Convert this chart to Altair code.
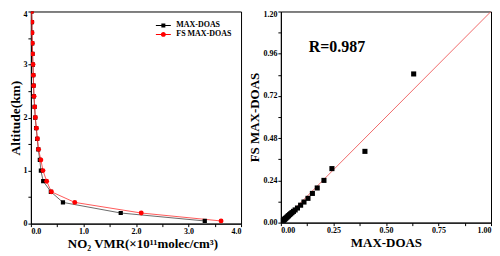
import altair as alt
import pandas as pd

# ---------------- data ----------------
altitude_km = [0.05, 0.2, 0.4, 0.6, 0.8, 1.0, 1.2, 1.4, 1.6, 1.8, 2.0,
               2.2, 2.4, 2.6, 2.8, 3.0, 3.2, 3.4, 3.6, 3.8, 4.0]
maxdoas_vmr = [3.31, 1.71, 0.61, 0.38, 0.234, 0.19, 0.17, 0.14, 0.12, 0.10, 0.082,
               0.07, 0.057, 0.05, 0.044, 0.038, 0.03, 0.025, 0.02, 0.02, 0.015]
fs_maxdoas_vmr = [3.62, 2.10, 0.835, 0.39, 0.30, 0.23, 0.19, 0.145, 0.125, 0.105, 0.085,
                  0.072, 0.06, 0.052, 0.046, 0.04, 0.032, 0.027, 0.022, 0.02, 0.015]
series_names = ["MAX-DOAS", "FS MAX-DOAS"]

scatter_maxdoas = [0.632, 0.400, 0.243, 0.205, 0.173, 0.150, 0.129, 0.110, 0.094, 0.079,
                   0.068, 0.060, 0.053, 0.047, 0.042, 0.037, 0.033, 0.029, 0.025, 0.021,
                   0.018, 0.015, 0.012]
scatter_fs = [0.845, 0.405, 0.307, 0.240, 0.197, 0.166, 0.138, 0.117, 0.099, 0.083,
              0.072, 0.064, 0.057, 0.051, 0.046, 0.040, 0.036, 0.031, 0.027, 0.023,
              0.019, 0.016, 0.013]
fit_x = [0.0, 1.0]
fit_y = [0.0, 1.2]
r_label = ["R=0.987"]

FONT = "Liberation Serif"

prof = pd.DataFrame({
    "alt": altitude_km * 2,
    "vmr": maxdoas_vmr + fs_maxdoas_vmr,
    "series": [series_names[0]] * len(altitude_km) + [series_names[1]] * len(altitude_km),
})
scat = pd.DataFrame({"x": scatter_maxdoas, "y": scatter_fs})
fit = pd.DataFrame({"x": fit_x, "y": fit_y})
rdf = pd.DataFrame({"t": r_label})

# ---------------- left panel ----------------
W, H = 211, 213
lx = alt.X("vmr:Q", scale=alt.Scale(domain=[0, 4], nice=False),
           axis=alt.Axis(values=[i * 0.5 for i in range(9)],
                         labelExpr="datum.value % 1 == 0 ? format(datum.value, '.1f') : ''",
                         title="NO₂ VMR(×10¹¹molec/cm³)", titleX=112))
ly = alt.Y("alt:Q", scale=alt.Scale(domain=[0, 4], nice=False),
           axis=alt.Axis(values=[i * 0.5 for i in range(9)],
                         labelExpr="datum.value % 1 == 0 ? format(datum.value, 'd') : ''",
                         labelOffset={"condition": {"test": "datum.value >= 3.99", "value": 3}, "value": 0},
                         title="Altitude(km)", titleFontSize=13.5, titlePadding=0))
order = alt.Order("alt:Q")

base = alt.Chart(prof)
blk = base.transform_filter(alt.datum.series == series_names[0])
red = base.transform_filter(alt.datum.series == series_names[1])

black_line = blk.mark_line(color="#444444", strokeWidth=0.8, clip=True).encode(x=lx, y=ly, order=order)
black_pts = blk.mark_point(shape="square", filled=True, color="black", size=18, opacity=1, clip=True).encode(x=lx, y=ly)
red_line = red.mark_line(color="#ff3030", strokeWidth=0.8, clip=True).encode(x=lx, y=ly, order=order)
red_pts = red.mark_point(shape="circle", filled=True, color="#ff0000", size=24, opacity=1, clip=True).encode(x=lx, y=ly)

sq_path = "M-1.875,-0.125H1.875V0.125H-1.875Z M-0.5,-0.5H0.5V0.5H-0.5Z"
ci_path = "M-1.875,-0.125H1.875V0.125H-1.875Z M0.62,0A0.62,0.62 0 1,1 -0.62,0A0.62,0.62 0 1,1 0.62,0Z"
leg = alt.Legend(title=None, orient="none", legendX=129, legendY=10, labelFont=FONT, labelFontSize=8,
                 labelFontWeight="bold", labelColor="black", symbolOpacity=1,
                 symbolSize=64, labelOffset=9, rowPadding=1, symbolStrokeWidth=0, padding=0)
legend_layer = base.mark_point(filled=True, opacity=0, size=64).encode(
    x=lx, y=ly,
    color=alt.Color("series:N", scale=alt.Scale(domain=series_names, range=["black", "#ff0000"]), legend=leg),
    shape=alt.Shape("series:N", scale=alt.Scale(domain=series_names, range=[sq_path, ci_path]), legend=leg),
)

left = alt.layer(black_line, red_line, black_pts, red_pts, legend_layer).properties(width=W, height=H)

# ---------------- right panel ----------------
rx = alt.X("x:Q", scale=alt.Scale(domain=[0, 1], nice=False),
           axis=alt.Axis(values=[i * 0.125 for i in range(9)],
                         labelExpr="(datum.value * 4) % 1 == 0 ? format(datum.value, '.2f') : ''",
                         title="MAX-DOAS"))
ry = alt.Y("y:Q", scale=alt.Scale(domain=[0, 1.2], nice=False),
           axis=alt.Axis(values=[round(i * 0.12, 2) for i in range(11)],
                         labelExpr="abs(datum.value / 0.24 - round(datum.value / 0.24)) < 0.001 ? format(datum.value, '.2f') : ''",
                         labelOffset={"condition": {"test": "datum.value >= 1.19", "value": 3}, "value": 0},
                         title="FS MAX-DOAS", titlePadding=1))

fit_line = alt.Chart(fit).mark_line(color="#f06a6a", strokeWidth=1, clip=True).encode(x=rx, y=ry)
sc_pts = alt.Chart(scat).mark_point(shape="square", filled=True, color="black", size=26, opacity=1).encode(x=rx, y=ry)
r_text = alt.Chart(rdf).mark_text(align="left", baseline="middle", font=FONT, fontSize=16,
                                   fontWeight="bold", color="black").encode(
    x=alt.value(28), y=alt.value(36), text="t:N")

right = alt.layer(fit_line, sc_pts, r_text).properties(width=W, height=H - 1)

chart = alt.hconcat(left, right, spacing=6).resolve_scale(
    color="independent", shape="independent"
).resolve_legend(
    color="independent", shape="independent"
).configure(
    padding={"left": 0, "top": 0, "right": 0, "bottom": 0},
    background="white",
).configure_view(
    stroke="black", strokeWidth=1
).configure_axis(
    labelFont=FONT, labelFontSize=8, labelFontWeight="bold", labelColor="black",
    titleFont=FONT, titleFontSize=13, titleFontWeight="bold", titleColor="black",
    domainColor="black", tickColor="black", tickSize=3, labelPadding=1,
    grid=False, titlePadding=2,
)

chart.save("out.html", embed_options={"renderer": "svg", "actions": False})
